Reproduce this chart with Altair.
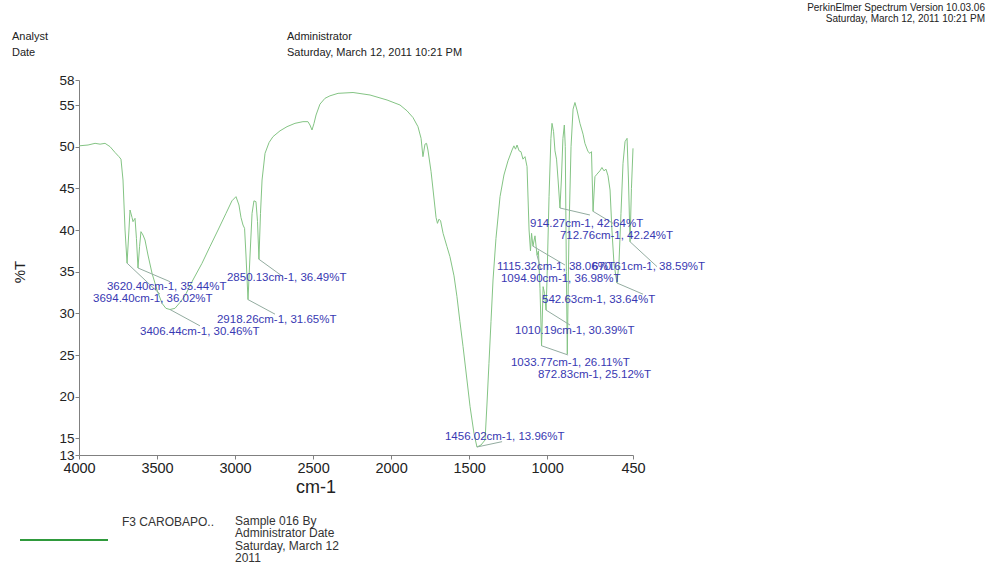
import altair as alt
import pandas as pd

# ---------------- spectrum ----------------
wavenumber = [4000, 3942, 3897, 3865, 3833, 3801, 3769, 3744, 3731, 3718, 3705, 3692, 3680, 3673,
              3660, 3654, 3641, 3632, 3622, 3612, 3603, 3590, 3577, 3558, 3532, 3500, 3468, 3443,
              3417, 3385, 3353, 3321, 3270, 3212, 3161, 3109, 3058, 3020, 2994, 2975, 2962, 2949,
              2939, 2930, 2917, 2904, 2891, 2879, 2866, 2856, 2847, 2837, 2827, 2808, 2782, 2757,
              2712, 2667, 2616, 2565, 2533, 2520, 2507, 2494, 2481, 2456, 2424, 2392, 2340, 2244,
              2135, 2026, 1943, 1898, 1860, 1828, 1808, 1796, 1783, 1773, 1764, 1744, 1731, 1712,
              1703, 1693, 1683, 1667, 1642, 1623, 1597, 1578, 1559, 1539, 1514, 1494, 1469, 1450,
              1424, 1398, 1386, 1373, 1360, 1347, 1328, 1302, 1277, 1251, 1225, 1213, 1203, 1193,
              1180, 1168, 1155, 1142, 1129, 1116, 1107, 1100, 1091, 1078, 1065, 1056, 1046, 1036,
              1026, 1017, 1007, 1001, 988, 976, 969, 959, 950, 940, 930, 918, 909, 899, 890, 884,
              877, 871, 860, 847, 834, 822, 809, 790, 770, 758, 738, 726, 716, 706, 694, 681,
              662, 649, 636, 623, 610, 597, 585, 572, 553, 540, 527, 514, 501, 488, 479, 469,
              460, 450]
transmittance = [50.1, 50.2, 50.4, 50.3, 50.4, 50.0, 49.3, 48.8, 48.5, 46.0, 40.0, 36.02, 40.0, 42.4,
                 41.5, 41.0, 41.4, 39.0, 35.44, 38.0, 39.8, 39.4, 38.8, 37.0, 34.8, 32.8, 31.2, 30.6,
                 30.46, 30.6, 31.3, 32.1, 34.0, 36.0, 38.0, 40.0, 42.0, 43.5, 44.0, 43.0, 41.5, 40.6,
                 40.2, 37.0, 31.65, 37.0, 42.0, 43.5, 43.4, 41.0, 36.49, 42.0, 46.0, 49.2, 50.5, 51.2,
                 51.9, 52.4, 52.8, 53.0, 53.0, 52.6, 52.0, 52.8, 53.8, 55.1, 55.8, 56.1, 56.4, 56.5,
                 56.2, 55.6, 55.0, 54.3, 53.5, 52.4, 51.0, 48.8, 50.3, 50.4, 49.6, 47.0, 44.8, 41.5,
                 40.8, 41.3, 41.1, 39.6, 38.0, 36.8, 34.5, 32.0, 29.0, 26.0, 22.0, 18.8, 15.6, 13.96,
                 14.2, 14.8, 19.0, 24.0, 29.0, 34.0, 39.0, 44.0, 46.6, 48.3, 49.6, 50.1, 49.7, 50.2,
                 49.5, 49.4, 48.5, 48.8, 47.6, 40.0, 37.5, 39.6, 38.06, 39.3, 36.98, 37.5, 33.0, 26.11,
                 33.2, 32.4, 30.39, 34.0, 44.0, 51.0, 52.8, 51.8, 49.5, 48.5, 46.0, 42.64, 46.0, 51.0, 52.6, 50.0,
                 35.0, 25.12, 40.0, 50.0, 54.5, 55.3, 54.4, 52.8, 51.5, 50.4, 49.4, 49.2, 49.4, 42.24, 46.4, 46.7,
                 47.1, 47.5, 47.1, 47.3, 46.5, 44.8, 40.0, 36.0, 33.64, 36.0, 42.0, 48.0, 50.6, 51.0, 46.0, 38.59,
                 45.0, 49.8]

# ---------------- peak annotations ----------------
peak_label_wn = [3620.40, 3694.40, 3406.44, 2850.13, 2918.26, 1456.02, 914.27, 712.76,
                 1115.32, 670.61, 1094.90, 542.63, 1010.19, 1033.77, 872.83]
peak_label_T = [35.44, 36.02, 30.46, 36.49, 31.65, 13.96, 42.64, 42.24,
                38.06, 38.59, 36.98, 33.64, 30.39, 26.11, 25.12]
# where each peak sits on the drawn trace
peak_at_wn = [3622, 3692, 3417, 2847, 2917, 1450, 918, 706, 1091, 469, 1065, 553, 1007, 1036, 871]
# leader end points and label anchors (data units)
leader_end_wn = [3417, 3481, 3225, 2693, 2744, 1289, 726, 578, 886, 296, 1040, 386, 854, 866, 871]
leader_end_T = [33.8, 32.3, 28.5, 34.4, 29.9, 14.6, 41.8, 40.8, 35.8, 35.6, 35.2, 32.3, 28.6, 25.0, 25.12]
label_wn = [3821, 3910, 3609, 3052, 3116, 1655, 1110, 918, 1321, 713, 1296, 1033, 1206, 1232, 1059]
label_T = [33.16, 31.72, 27.76, 34.24, 29.2, 15.16, 40.72, 39.28, 35.56, 35.56, 34.12, 31.6, 27.88, 24.04, 22.6]

x_ticks = [4000, 3500, 3000, 2500, 2000, 1500, 1000, 450]
y_ticks = [13, 15, 20, 25, 30, 35, 40, 45, 50, 55, 58]

spec = pd.DataFrame({"wn": wavenumber, "T": transmittance})
peaks = pd.DataFrame({
    "pwn": peak_at_wn, "pT": peak_label_T,
    "ewn": leader_end_wn, "eT": leader_end_T,
    "lwn": label_wn, "lT": label_T,
    "txt": [f"{w:.2f}cm-1, {t:.2f}%T" for w, t in zip(peak_label_wn, peak_label_T)],
})

FONT = "Liberation Sans"
W, H = 554, 375

xs = alt.Scale(domain=[450, 4000], reverse=True, nice=False, zero=False)
ys = alt.Scale(domain=[13, 58], nice=False, zero=False)

x_axis = alt.Axis(values=x_ticks, format="d", title=None, grid=False, labelFont=FONT, labelFontSize=14.5,
                  labelColor="#222222", domainColor="#808080", tickColor="#808080", tickSize=4,
                  labelPadding=2, labelFlush=False, labelOverlap=False)
y_axis = alt.Axis(values=y_ticks, format="d", title=None, grid=False, labelFont=FONT, labelFontSize=13.5,
                  labelColor="#222222", domainColor="#808080", tickColor="#808080", tickSize=4,
                  labelPadding=1, labelFlush=False, labelOverlap=False)

line = alt.Chart(spec).mark_line(color="#84c484", strokeWidth=1).encode(
    x=alt.X("wn:Q", scale=xs, axis=x_axis),
    y=alt.Y("T:Q", scale=ys, axis=y_axis),
    order="wn:Q",
)

leaders = alt.Chart(peaks).mark_rule(color="#93aca0", strokeWidth=1).encode(
    x=alt.X("pwn:Q", scale=xs, axis=x_axis), y=alt.Y("pT:Q", scale=ys, axis=y_axis),
    x2="ewn:Q", y2="eT:Q",
)

labels = alt.Chart(peaks).mark_text(align="left", baseline="middle", font=FONT, fontSize=11.5,
                                    color="#3838b2").encode(
    x=alt.X("lwn:Q", scale=xs, axis=x_axis), y=alt.Y("lT:Q", scale=ys, axis=y_axis), text="txt:N",
)


def txt(s, x, y, size=11, align="left", color="#222222", angle=0, baseline="middle"):
    kw = dict(align=align, baseline=baseline, font=FONT, fontSize=size, color=color, lineBreak="\n",
              lineHeight=12.3)
    if angle:
        kw["angle"] = angle
    return alt.Chart(pd.DataFrame({"t": [s]})).mark_text(**kw).encode(
        x=alt.value(x), y=alt.value(y), text="t:N")


header = [
    txt("Analyst", -67, -43),
    txt("Date", -67, -27),
    txt("Administrator", 208, -43),
    txt("Saturday, March 12, 2011 10:21 PM", 208, -27),
    txt("PerkinElmer Spectrum Version 10.03.06", 906, -72.5, size=10, align="right"),
    txt("Saturday, March 12, 2011 10:21 PM", 906, -61.5, size=10, align="right"),
    txt("%T", -59, 192, size=15, align="center", angle=270),
    txt("cm-1", 237, 408, size=18, align="center"),
    txt("F3  CAROBAPO..", 43, 442, size=12, color="#333333"),
    txt("Sample 016 By\nAdministrator Date\nSaturday, March 12\n2011", 156, 436, size=12,
        color="#333333", baseline="top"),
]

legend_line = alt.Chart(pd.DataFrame({"t": [0]})).mark_rule(color="#2f9a3c", strokeWidth=2).encode(
    x=alt.value(-59), x2=alt.value(29), y=alt.value(460))

chart = alt.layer(line, leaders, labels, legend_line, *header).properties(
    width=W, height=H, autosize="none",
    padding={"left": 79, "top": 80, "right": 354, "bottom": 114},
    background="white",
).configure_view(strokeWidth=0).configure_axis(labelOverlap=False)

chart.save("out.html", embed_options={"renderer": "svg", "actions": False})
